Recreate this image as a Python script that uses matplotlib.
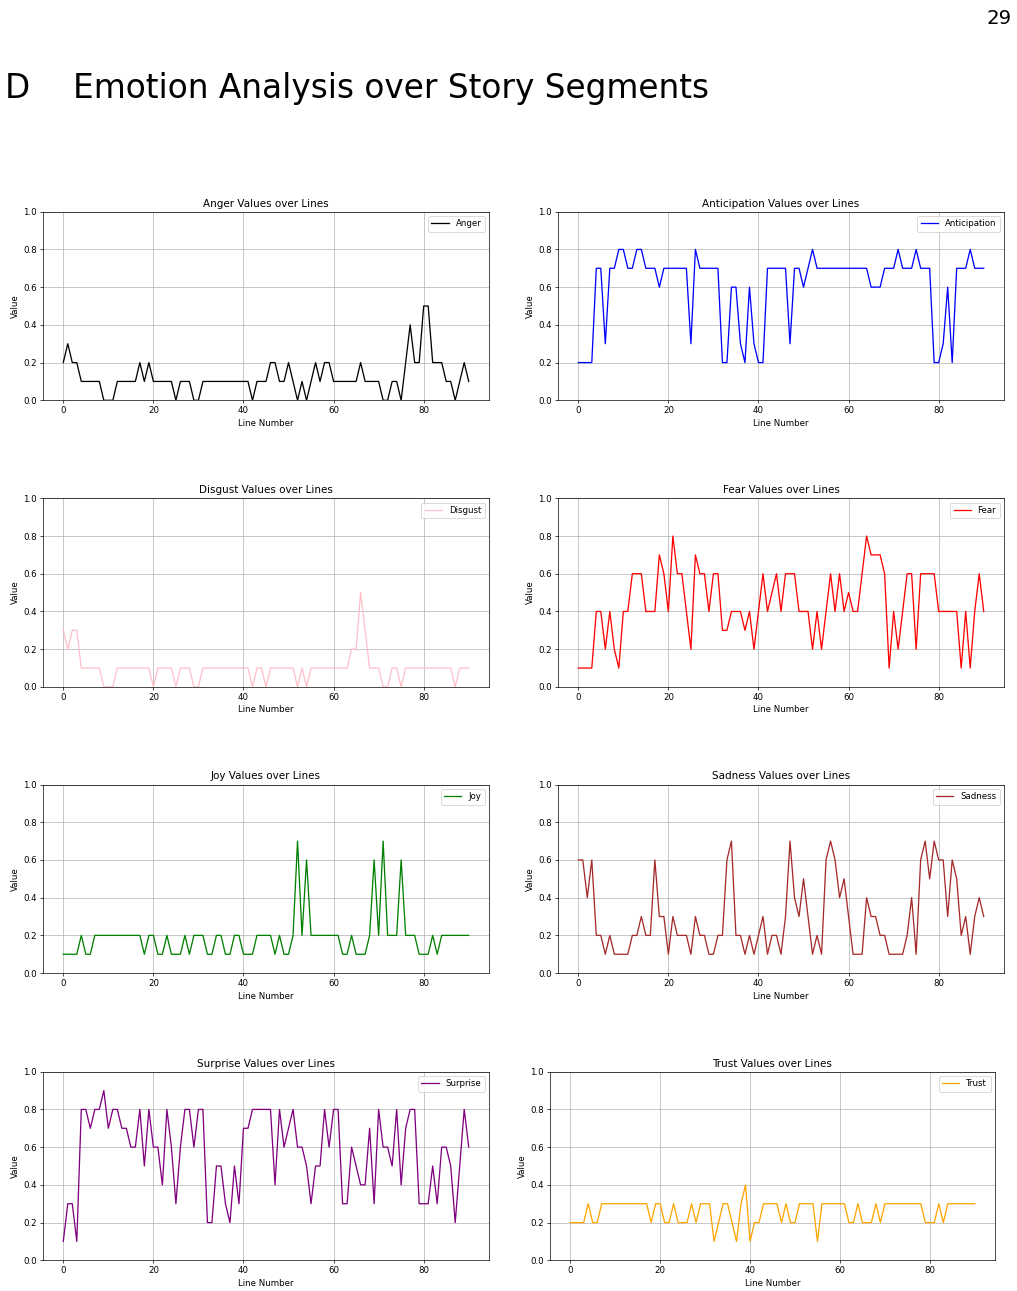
import matplotlib
matplotlib.use("Agg")
import matplotlib.pyplot as plt

lines = list(range(91))

anger = [
    0.2, 0.3, 0.2, 0.2, 0.1, 0.1, 0.1, 0.1, 0.1, 0.0,
    0.0, 0.0, 0.1, 0.1, 0.1, 0.1, 0.1, 0.2, 0.1, 0.2,
    0.1, 0.1, 0.1, 0.1, 0.1, 0.0, 0.1, 0.1, 0.1, 0.0,
    0.0, 0.1, 0.1, 0.1, 0.1, 0.1, 0.1, 0.1, 0.1, 0.1,
    0.1, 0.1, 0.0, 0.1, 0.1, 0.1, 0.2, 0.2, 0.1, 0.1,
    0.2, 0.1, 0.0, 0.1, 0.0, 0.1, 0.2, 0.1, 0.2, 0.2,
    0.1, 0.1, 0.1, 0.1, 0.1, 0.1, 0.2, 0.1, 0.1, 0.1,
    0.1, 0.0, 0.0, 0.1, 0.1, 0.0, 0.2, 0.4, 0.2, 0.2,
    0.5, 0.5, 0.2, 0.2, 0.2, 0.1, 0.1, 0.0, 0.1, 0.2,
    0.1]

anticipation = [
    0.2, 0.2, 0.2, 0.2, 0.7, 0.7, 0.3, 0.7, 0.7, 0.8,
    0.8, 0.7, 0.7, 0.8, 0.8, 0.7, 0.7, 0.7, 0.6, 0.7,
    0.7, 0.7, 0.7, 0.7, 0.7, 0.3, 0.8, 0.7, 0.7, 0.7,
    0.7, 0.7, 0.2, 0.2, 0.6, 0.6, 0.3, 0.2, 0.6, 0.3,
    0.2, 0.2, 0.7, 0.7, 0.7, 0.7, 0.7, 0.3, 0.7, 0.7,
    0.6, 0.7, 0.8, 0.7, 0.7, 0.7, 0.7, 0.7, 0.7, 0.7,
    0.7, 0.7, 0.7, 0.7, 0.7, 0.6, 0.6, 0.6, 0.7, 0.7,
    0.7, 0.8, 0.7, 0.7, 0.7, 0.8, 0.7, 0.7, 0.7, 0.2,
    0.2, 0.3, 0.6, 0.2, 0.7, 0.7, 0.7, 0.8, 0.7, 0.7,
    0.7]

disgust = [
    0.3, 0.2, 0.3, 0.3, 0.1, 0.1, 0.1, 0.1, 0.1, 0.0,
    0.0, 0.0, 0.1, 0.1, 0.1, 0.1, 0.1, 0.1, 0.1, 0.1,
    0.0, 0.1, 0.1, 0.1, 0.1, 0.0, 0.1, 0.1, 0.1, 0.0,
    0.0, 0.1, 0.1, 0.1, 0.1, 0.1, 0.1, 0.1, 0.1, 0.1,
    0.1, 0.1, 0.0, 0.1, 0.1, 0.0, 0.1, 0.1, 0.1, 0.1,
    0.1, 0.1, 0.0, 0.1, 0.0, 0.1, 0.1, 0.1, 0.1, 0.1,
    0.1, 0.1, 0.1, 0.1, 0.2, 0.2, 0.5, 0.3, 0.1, 0.1,
    0.1, 0.0, 0.0, 0.1, 0.1, 0.0, 0.1, 0.1, 0.1, 0.1,
    0.1, 0.1, 0.1, 0.1, 0.1, 0.1, 0.1, 0.0, 0.1, 0.1,
    0.1]

fear = [
    0.1, 0.1, 0.1, 0.1, 0.4, 0.4, 0.2, 0.4, 0.2, 0.1,
    0.4, 0.4, 0.6, 0.6, 0.6, 0.4, 0.4, 0.4, 0.7, 0.6,
    0.4, 0.8, 0.6, 0.6, 0.4, 0.2, 0.7, 0.6, 0.6, 0.4,
    0.6, 0.6, 0.3, 0.3, 0.4, 0.4, 0.4, 0.3, 0.4, 0.2,
    0.4, 0.6, 0.4, 0.5, 0.6, 0.4, 0.6, 0.6, 0.6, 0.4,
    0.4, 0.4, 0.2, 0.4, 0.2, 0.4, 0.6, 0.4, 0.6, 0.4,
    0.5, 0.4, 0.4, 0.6, 0.8, 0.7, 0.7, 0.7, 0.6, 0.1,
    0.4, 0.2, 0.4, 0.6, 0.6, 0.2, 0.6, 0.6, 0.6, 0.6,
    0.4, 0.4, 0.4, 0.4, 0.4, 0.1, 0.4, 0.1, 0.4, 0.6,
    0.4]

joy = [
    0.1, 0.1, 0.1, 0.1, 0.2, 0.1, 0.1, 0.2, 0.2, 0.2,
    0.2, 0.2, 0.2, 0.2, 0.2, 0.2, 0.2, 0.2, 0.1, 0.2,
    0.2, 0.1, 0.1, 0.2, 0.1, 0.1, 0.1, 0.2, 0.1, 0.2,
    0.2, 0.2, 0.1, 0.1, 0.2, 0.2, 0.1, 0.1, 0.2, 0.2,
    0.1, 0.1, 0.1, 0.2, 0.2, 0.2, 0.2, 0.1, 0.2, 0.1,
    0.1, 0.2, 0.7, 0.2, 0.6, 0.2, 0.2, 0.2, 0.2, 0.2,
    0.2, 0.2, 0.1, 0.1, 0.2, 0.1, 0.1, 0.1, 0.2, 0.6,
    0.2, 0.7, 0.2, 0.2, 0.2, 0.6, 0.2, 0.2, 0.2, 0.1,
    0.1, 0.1, 0.2, 0.1, 0.2, 0.2, 0.2, 0.2, 0.2, 0.2,
    0.2]

sadness = [
    0.6, 0.6, 0.4, 0.6, 0.2, 0.2, 0.1, 0.2, 0.1, 0.1,
    0.1, 0.1, 0.2, 0.2, 0.3, 0.2, 0.2, 0.6, 0.3, 0.3,
    0.1, 0.3, 0.2, 0.2, 0.2, 0.1, 0.3, 0.2, 0.2, 0.1,
    0.1, 0.2, 0.2, 0.6, 0.7, 0.2, 0.2, 0.1, 0.2, 0.1,
    0.2, 0.3, 0.1, 0.2, 0.2, 0.1, 0.3, 0.7, 0.4, 0.3,
    0.5, 0.3, 0.1, 0.2, 0.1, 0.6, 0.7, 0.6, 0.4, 0.5,
    0.3, 0.1, 0.1, 0.1, 0.4, 0.3, 0.3, 0.2, 0.2, 0.1,
    0.1, 0.1, 0.1, 0.2, 0.4, 0.1, 0.6, 0.7, 0.5, 0.7,
    0.6, 0.6, 0.3, 0.6, 0.5, 0.2, 0.3, 0.1, 0.3, 0.4,
    0.3]

surprise = [
    0.1, 0.3, 0.3, 0.1, 0.8, 0.8, 0.7, 0.8, 0.8, 0.9,
    0.7, 0.8, 0.8, 0.7, 0.7, 0.6, 0.6, 0.8, 0.5, 0.8,
    0.6, 0.6, 0.4, 0.8, 0.6, 0.3, 0.6, 0.8, 0.8, 0.6,
    0.8, 0.8, 0.2, 0.2, 0.5, 0.5, 0.3, 0.2, 0.5, 0.3,
    0.7, 0.7, 0.8, 0.8, 0.8, 0.8, 0.8, 0.4, 0.8, 0.6,
    0.7, 0.8, 0.6, 0.6, 0.5, 0.3, 0.5, 0.5, 0.8, 0.6,
    0.8, 0.8, 0.3, 0.3, 0.6, 0.5, 0.4, 0.4, 0.7, 0.3,
    0.8, 0.6, 0.6, 0.5, 0.8, 0.4, 0.7, 0.8, 0.8, 0.3,
    0.3, 0.3, 0.5, 0.3, 0.6, 0.6, 0.5, 0.2, 0.5, 0.8,
    0.6]

trust = [
    0.2, 0.2, 0.2, 0.2, 0.3, 0.2, 0.2, 0.3, 0.3, 0.3,
    0.3, 0.3, 0.3, 0.3, 0.3, 0.3, 0.3, 0.3, 0.2, 0.3,
    0.3, 0.2, 0.2, 0.3, 0.2, 0.2, 0.2, 0.3, 0.2, 0.3,
    0.3, 0.3, 0.1, 0.2, 0.3, 0.3, 0.2, 0.1, 0.3, 0.4,
    0.1, 0.2, 0.2, 0.3, 0.3, 0.3, 0.3, 0.2, 0.3, 0.2,
    0.2, 0.3, 0.3, 0.3, 0.3, 0.1, 0.3, 0.3, 0.3, 0.3,
    0.3, 0.3, 0.2, 0.2, 0.3, 0.2, 0.2, 0.2, 0.3, 0.2,
    0.3, 0.3, 0.3, 0.3, 0.3, 0.3, 0.3, 0.3, 0.3, 0.2,
    0.2, 0.2, 0.3, 0.2, 0.3, 0.3, 0.3, 0.3, 0.3, 0.3,
    0.3]

emotions = ["Anger", "Anticipation", "Disgust", "Fear",
            "Joy", "Sadness", "Surprise", "Trust"]
series = [anger, anticipation, disgust, fear, joy, sadness, surprise, trust]
colors = ["black", "blue", "pink", "red", "green", "brown", "purple", "orange"]

W, H = 1018, 1291
DPI = 62
fig = plt.figure(figsize=(W / DPI, H / DPI), dpi=DPI)

# axes rectangles in pixels: (left, top, width, height)
row_tops = [211.7, 498.3, 784.5, 1071.7]
ax_h = 188.6
rects = []
for r, top in enumerate(row_tops):
    rects.append((43, top, 446, ax_h))
    if r < 3:
        rects.append((558, top, 446, ax_h))
    else:
        rects.append((550, top, 445, ax_h))

for name, vals, col, (l, t, w, h) in zip(emotions, series, colors, rects):
    ax = fig.add_axes([l / W, 1 - (t + h) / H, w / W, h / H])
    ax.plot(lines, vals, color=col, label=name)
    ax.set_ylim(0, 1)
    ax.set_title(f"{name} Values over Lines")
    ax.set_xlabel("Line Number")
    ax.set_ylabel("Value")
    ax.grid(True)
    ax.legend(loc="upper right")

fig.text(5 / W, 1 - 98 / H, "D", fontsize=38, va="baseline", ha="left")
fig.text(73 / W, 1 - 98 / H, "Emotion Analysis over Story Segments",
         fontsize=38, va="baseline", ha="left")
fig.text(1012 / W, 1 - 24 / H, "29", fontsize=23, va="baseline", ha="right")

fig.savefig("out.png", dpi=DPI)
